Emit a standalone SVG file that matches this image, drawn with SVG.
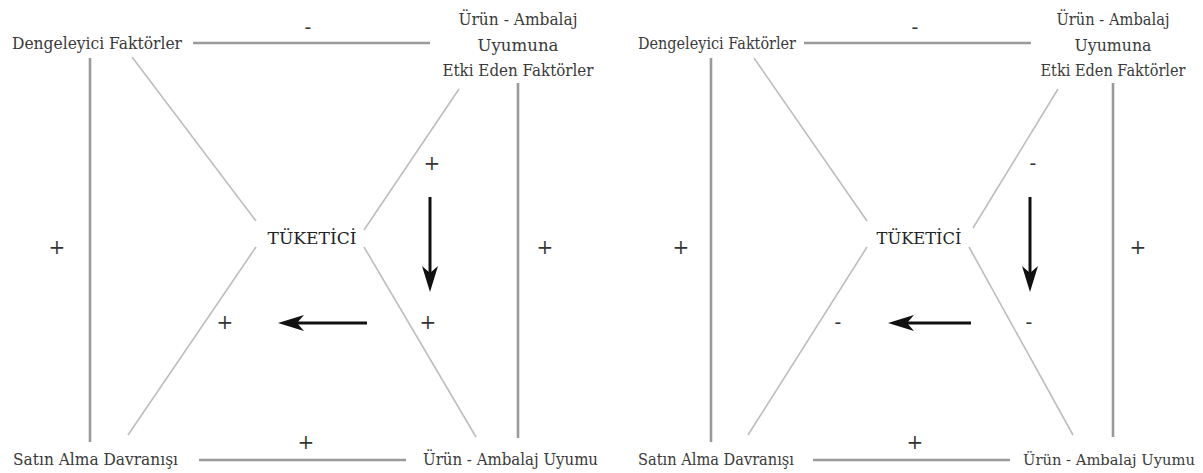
<svg xmlns="http://www.w3.org/2000/svg" width="1203" height="473" viewBox="0 0 1203 473">
<defs>
<marker id="ah" markerUnits="userSpaceOnUse" markerWidth="28" markerHeight="18" refX="7" refY="8" orient="auto" viewBox="0 0 28 16">
<path d="M0,0 L26,8 L0,16 L7,8 z" fill="#111"/>
</marker>
</defs>
<rect width="1203" height="473" fill="#fff"/>

<g id="left-connectors" fill="none">
<g stroke="#9a9a9a" stroke-width="2.6">
<line x1="193" y1="43" x2="430" y2="43"/>
<line x1="90" y1="58" x2="90" y2="442"/>
<line x1="518" y1="83" x2="518" y2="438"/>
<line x1="199" y1="460" x2="406" y2="460"/>
</g>
<g stroke="#bdbdbd" stroke-width="1.6">
<line x1="132" y1="57" x2="256" y2="221"/>
<line x1="459" y1="89" x2="364" y2="230"/>
<line x1="256" y1="247" x2="128" y2="435"/>
<line x1="364" y1="247" x2="476" y2="437"/>
</g>
<g stroke="#111" stroke-width="3" marker-end="url(#ah)">
<line x1="430" y1="197" x2="430" y2="273"/>
<line x1="367" y1="323" x2="297" y2="323"/>
</g>
</g>
<g font-family="DejaVu Serif, serif" font-size="17" fill="#3a3a3a">
<g id="left-dengeleyici"><text x="12" y="49" textLength="170" lengthAdjust="spacingAndGlyphs">Dengeleyici Faktörler</text></g>
<g id="left-etki" text-anchor="middle">
<text x="518" y="25" textLength="119" lengthAdjust="spacingAndGlyphs">Ürün - Ambalaj</text>
<text x="518" y="51" textLength="81" lengthAdjust="spacingAndGlyphs">Uyumuna</text>
<text x="518" y="76" textLength="151" lengthAdjust="spacingAndGlyphs">Etki Eden Faktörler</text>
</g>
<g id="left-tuketici"><text x="312" y="244" text-anchor="middle" textLength="89" lengthAdjust="spacingAndGlyphs" fill="#222">TÜKETİCİ</text></g>
<g id="left-satin"><text x="13" y="465" textLength="165" lengthAdjust="spacingAndGlyphs">Satın Alma Davranışı</text></g>
<g id="left-uyum"><text x="423" y="465" textLength="175" lengthAdjust="spacingAndGlyphs">Ürün - Ambalaj Uyumu</text></g>
<g id="left-signs" font-size="20" text-anchor="middle" fill="#333">
<text x="308" y="34">-</text>
<text x="432" y="170">+</text>
<text x="57" y="254">+</text>
<text x="545" y="254">+</text>
<text x="225" y="329">+</text>
<text x="428" y="329">+</text>
<text x="306" y="449">+</text>
</g>
</g>

<g id="right-connectors" fill="none">
<g stroke="#9a9a9a" stroke-width="2.6">
<line x1="804" y1="43" x2="1031" y2="43"/>
<line x1="711" y1="58" x2="711" y2="442"/>
<line x1="1113" y1="83" x2="1113" y2="437"/>
<line x1="813" y1="460" x2="1010" y2="460"/>
</g>
<g stroke="#bdbdbd" stroke-width="1.6">
<line x1="754" y1="58" x2="867" y2="221"/>
<line x1="1058" y1="89" x2="973" y2="228"/>
<line x1="867" y1="247" x2="748" y2="435"/>
<line x1="969" y1="247" x2="1073" y2="435"/>
</g>
<g stroke="#111" stroke-width="3" marker-end="url(#ah)">
<line x1="1030" y1="197" x2="1030" y2="273"/>
<line x1="971" y1="323" x2="907" y2="323"/>
</g>
</g>
<g font-family="DejaVu Serif, serif" font-size="16" fill="#3a3a3a">
<g id="right-dengeleyici"><text x="638" y="49" textLength="158" lengthAdjust="spacingAndGlyphs">Dengeleyici Faktörler</text></g>
<g id="right-etki" text-anchor="middle">
<text x="1113" y="25" textLength="113" lengthAdjust="spacingAndGlyphs">Ürün - Ambalaj</text>
<text x="1113" y="51" textLength="77" lengthAdjust="spacingAndGlyphs">Uyumuna</text>
<text x="1113" y="76" textLength="145" lengthAdjust="spacingAndGlyphs">Etki Eden Faktörler</text>
</g>
<g id="right-tuketici"><text x="919" y="244" text-anchor="middle" textLength="85" lengthAdjust="spacingAndGlyphs" fill="#222">TÜKETİCİ</text></g>
<g id="right-satin"><text x="638" y="465" textLength="156" lengthAdjust="spacingAndGlyphs">Satın Alma Davranışı</text></g>
<g id="right-uyum"><text x="1023" y="465" font-size="14.5" textLength="172" lengthAdjust="spacingAndGlyphs">Ürün - Ambalaj Uyumu</text></g>
<g id="right-signs" font-size="20" text-anchor="middle" fill="#333">
<text x="915" y="34">-</text>
<text x="1033" y="170">-</text>
<text x="681" y="254">+</text>
<text x="1138" y="254">+</text>
<text x="838" y="329">-</text>
<text x="1029" y="329">-</text>
<text x="915" y="449">+</text>
</g>
</g>
</svg>
